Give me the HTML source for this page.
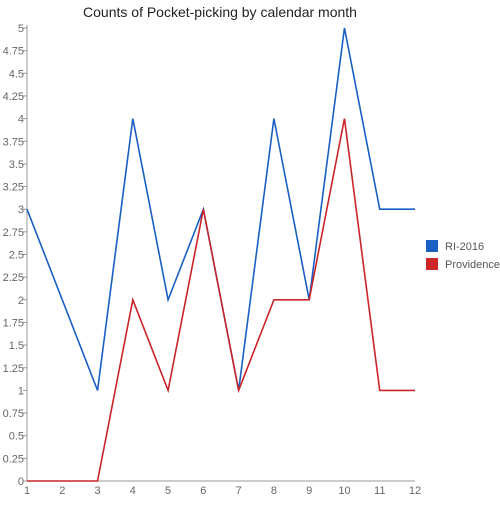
<!DOCTYPE html>
<html><head><meta charset="utf-8"><style>
html,body{margin:0;padding:0;background:#fff;}
svg text{font-family:"Liberation Sans",sans-serif;}
</style></head><body>
<svg id="chart" width="500" height="500" xmlns="http://www.w3.org/2000/svg">
<text x="220" y="17" font-size="14" text-anchor="middle" fill="#222">Counts of Pocket-picking by calendar month</text>
<g id="axes"></g>
<g id="series"></g>
<g>
<rect x="426" y="240" width="12" height="12" fill="#1a5fc4"/>
<text x="445" y="250" font-size="11" fill="#555">RI-2016</text>
<rect x="426" y="258" width="12" height="12" fill="#c9252b"/>
<text x="445" y="268" font-size="11" fill="#555">Providence</text>
</g>
</svg>
<script>
const months = [1,2,3,4,5,6,7,8,9,10,11,12];
const ri2016 = [3,2,1,4,2,3,1,4,2,5,3,3];
const providence = [0,0,0,2,1,3,1,2,2,4,1,1];
const yTicks = [0,0.25,0.5,0.75,1,1.25,1.5,1.75,2,2.25,2.5,2.75,3,3.25,3.5,3.75,4,4.25,4.5,4.75,5];
const NS='http://www.w3.org/2000/svg';
const x0=27,x1=415,y0=481,y1=28;
function xs(m){return x0+(m-1)*(x1-x0)/11;}
function ys(v){return y0-v*(y0-y1)/5;}
const axes=document.getElementById('axes');
function mk(tag,attrs,parent){const e=document.createElementNS(NS,tag);for(const k in attrs)e.setAttribute(k,attrs[k]);parent.appendChild(e);return e;}
let ax=mk('line',{x1:x0,y1:y1-3,x2:x0,y2:y0,stroke:'#999'},axes);


ax=mk('line',{x1:x0,y1:y0,x2:x1,y2:y0,stroke:'#999'},axes);


yTicks.forEach(v=>{
  const t=mk('line',{x1:x0-4,y1:ys(v),x2:x0,y2:ys(v),stroke:'#999'},axes);
  
  
  const l=mk('text',{x:x0-3,y:ys(v)+4,'font-size':11,'text-anchor':'end',fill:'#666'},axes);
  l.textContent=String(v);
  
  
});
months.forEach(m=>{
  const l=mk('text',{x:xs(m),y:494,'font-size':11,'text-anchor':'middle',fill:'#666'},axes);
  l.textContent=String(m);
  
  
});
const series=document.getElementById('series');
function line(vals,color,name){
  const p=mk('polyline',{points:vals.map((v,i)=>xs(months[i])+','+ys(v)).join(' '),fill:'none',stroke:color,'stroke-width':1.6,'stroke-linejoin':'miter'},series);
  
  
}
line(ri2016,'#1a5fc4','line-ri-2016');
line(providence,'#c9252b','line-providence');
</script>
</body></html>
